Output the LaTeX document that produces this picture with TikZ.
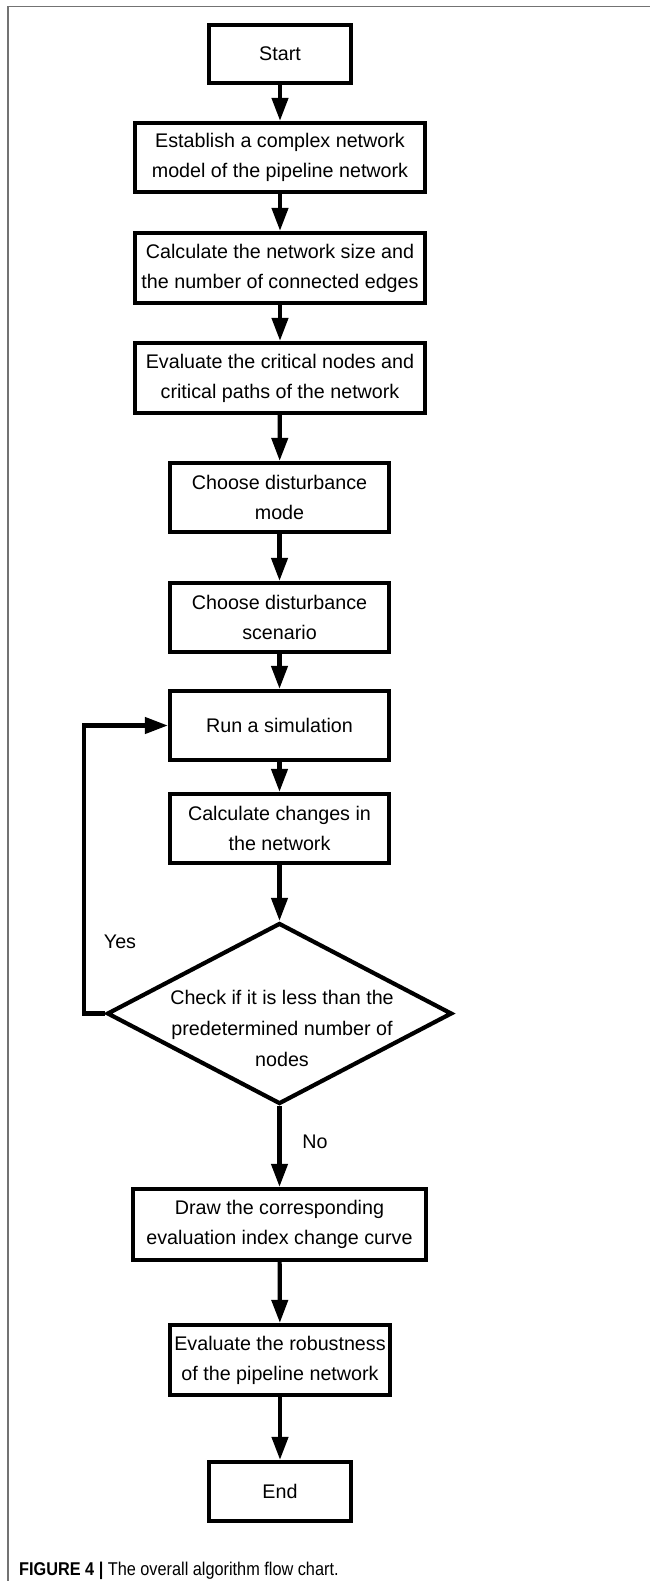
\documentclass[tikz,border=0pt]{standalone}
\usepackage{fontspec}
\setmainfont{Liberation Sans}
\newfontfamily\capfont{Liberation Sans}[FakeStretch=0.88]
\usetikzlibrary{arrows.meta,shapes.geometric}
\definecolor{framegray}{RGB}{115,115,115}
\begin{document}
\begin{tikzpicture}[x=1pt,y=-1pt,
  box/.style={draw=black, line width=4.2pt, rectangle, inner sep=0pt, align=center,
    font=\fontsize{19.7}{30}\selectfont},
  dia/.style={draw=black, line width=4.2pt, diamond, inner sep=0pt},
  lbl/.style={inner sep=0pt, align=center, font=\fontsize{19.7}{31}\selectfont},
  arr/.style={line width=4.2pt, -{Triangle[length=23pt,width=16pt]}}]
\useasboundingbox (0,0) rectangle (650,1581);
\draw[framegray, line width=1.7pt] (650,6.5) -- (8,6.5) -- (8,1581);

\node[box, minimum width=142pt, minimum height=58pt] (start) at (280,54) {Start};
\node[box, minimum width=290pt, minimum height=69pt] (b2) at (280,157.5) {Establish a complex network\\model of the pipeline network};
\node[box, minimum width=290pt, minimum height=70pt] (b3) at (280,268) {Calculate the network size and\\the number of connected edges};
\node[box, minimum width=290pt, minimum height=70pt] (b4) at (280,378) {Evaluate the critical nodes and\\critical paths of the network};
\node[box, minimum width=219pt, minimum height=69pt] (b5) at (279.5,497.5) {Choose disturbance\\mode};
\node[box, minimum width=219pt, minimum height=69pt] (b6) at (279.5,617.5) {Choose disturbance\\scenario};
\node[box, minimum width=219pt, minimum height=69pt] (b7) at (279.5,725.5) {Run a simulation};
\node[box, minimum width=219pt, minimum height=69pt] (b8) at (279.5,828.5) {Calculate changes in\\the network};
\node[dia, minimum width=345pt, minimum height=181pt] (dec) at (279.5,1013.5) {};
\node[lbl] (dectxt) at (282,1028.5) {Check if it is less than the\\predetermined number of\\nodes};
\node[box, minimum width=293pt, minimum height=71pt] (b9) at (279.5,1224.5) {Draw the corresponding\\evaluation index change curve};
\node[box, minimum width=220pt, minimum height=70pt] (b10) at (280,1360) {Evaluate the robustness\\of the pipeline network};
\node[box, minimum width=142pt, minimum height=59pt] (end) at (280,1491.5) {End};

\node[lbl] (yes) at (120,942) {Yes};
\node[lbl] (no) at (315,1142) {No};

\coordinate (loopc) at (84,1013.5);
\draw[arr] (start) -- (b2);
\draw[arr] (b2) -- (b3);
\draw[arr] (b3) -- (b4);
\draw[arr] (b4) -- (b5);
\draw[arr] (b5) -- (b6);
\draw[arr] (b6) -- (b7);
\draw[arr] (b7) -- (b8);
\draw[arr] (b8) -- (dec.north);
\draw[arr] (dec.south) -- (b9);
\draw[arr] (b9) -- (b10);
\draw[arr] (b10) -- (end);
\draw[arr] (dec.west) -- (loopc) |- (b7.west);

\node[anchor=base west, inner sep=0pt, font=\capfont\fontsize{18.5}{20}\selectfont] (cap) at (19,1575)
  {\textbf{FIGURE 4 |} The overall algorithm flow chart.};
\end{tikzpicture}
\end{document}
